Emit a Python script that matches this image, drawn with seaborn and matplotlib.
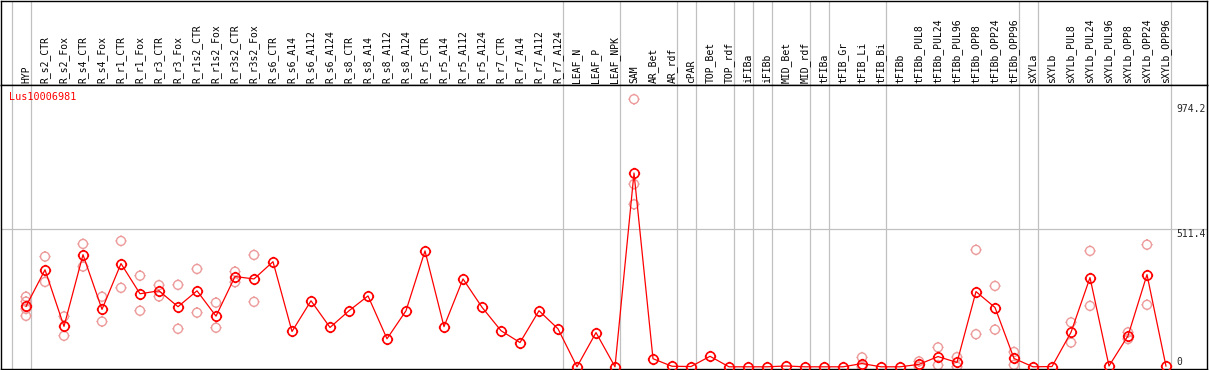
import numpy as np
import pandas as pd
import seaborn as sns
import matplotlib.pyplot as plt
from matplotlib.path import Path

# Sample names along the x axis
categories = [
    "HYP", "R_s2_CTR", "R_s2_Fox", "R_s4_CTR", "R_s4_Fox", "R_r1_CTR", "R_r1_Fox",
    "R_r3_CTR", "R_r3_Fox", "R_r1s2_CTR", "R_r1s2_Fox", "R_r3s2_CTR", "R_r3s2_Fox",
    "R_s6_CTR", "R_s6_A14", "R_s6_A112", "R_s6_A124", "R_s8_CTR", "R_s8_A14",
    "R_s8_A112", "R_s8_A124", "R_r5_CTR", "R_r5_A14", "R_r5_A112", "R_r5_A124",
    "R_r7_CTR", "R_r7_A14", "R_r7_A112", "R_r7_A124", "LEAF_N", "LEAF_P", "LEAF_NPK",
    "SAM", "AR_Bet", "AR_rdf", "cPAR", "TOP_Bet", "TOP_rdf", "iFIBa", "iFIBb",
    "MID_Bet", "MID_rdf", "tFIBa", "tFIB_Gr", "tFIB_Li", "tFIB_Bi", "tFIBb",
    "tFIBb_PUL8", "tFIBb_PUL24", "tFIBb_PUL96", "tFIBb_OPP8", "tFIBb_OPP24",
    "tFIBb_OPP96", "sXYLa", "sXYLb", "sXYLb_PUL8", "sXYLb_PUL24", "sXYLb_PUL96",
    "sXYLb_OPP8", "sXYLb_OPP24", "sXYLb_OPP96",
]

# Mean expression per sample
mean_values = [
    224, 360, 150, 416, 213, 383, 271, 282, 223, 282, 188, 335, 326, 390, 131,
    245, 146, 208, 263, 104, 208, 430, 149, 326, 221, 134, 90, 208, 141, 0,
    127, 0, 719, 30, 2, 1, 39, 0, 0, 0, 3, 0, 0, 0, 12, 0,
    0, 9, 38, 16, 279, 220, 31, 0, 1, 128, 331, 3, 115, 342, 2,
]

# Individual replicates (only where visible)
replicates = [
    [260, 242, 215, 189], [409, 315], [187, 115], [456, 372], [260, 168],
    [467, 293], [338, 208], [303, 261], [304, 141], [363, 201], [238, 145],
    [353, 314], [415, 241], [], [], [], [], [], [], [], [], [], [], [], [],
    [], [], [], [], [], [], [], [993, 678, 603], [], [], [], [], [], [], [],
    [], [], [], [], [35, 0], [], [], [20, 0], [72, 6], [36, 0], [434, 121],
    [300, 138], [55, 7], [], [], [165, 90], [430, 226], [], [128, 103],
    [453, 230], [],
]

# Sample index after which a group separator is drawn
group_ends = [-1, 0, 28, 31, 34, 35, 37, 38, 39, 41, 42, 45, 52, 53, 60]

gene_id = "Lus10006981"
scale_labels = ["974.2", "511.4", "0"]

means = pd.DataFrame({"idx": range(len(categories)), "value": mean_values})
reps = pd.DataFrame(
    [(i, v) for i, vals in enumerate(replicates) for v in vals],
    columns=["idx", "value"],
)

sns.set_style("white")
plt.rcParams["font.family"] = ["DejaVu Sans Mono"]

W, H = 1209, 370
fig = plt.figure(figsize=(W / 100, H / 100), dpi=100)


def px_rect(x0, y0, x1, y1):
    return [x0 / W, 1 - y1 / H, (x1 - x0) / W, (y1 - y0) / H]


ax_lab = fig.add_axes(px_rect(1, 0.5, 1207, 85))
ax = fig.add_axes(px_rect(1, 85, 1207, 369))

# x: sample i sits at pixel 26 + 19*i
xlim = ((1 - 26) / 19, (1207 - 26) / 19)
# y: zero at pixel 366.8, 0.2695 px per unit
ylim = (-(369 - 366.8) / 0.2695, (366.8 - 85) / 0.2695)

for a in (ax_lab, ax):
    a.set_xlim(*xlim)
    a.set_xticks([])
    a.set_yticks([])
    for s in a.spines.values():
        s.set_color("black")
        s.set_linewidth(1.0)
    for e in group_ends:
        a.axvline(e + 0.237, color="#c0c0c0", lw=0.9, zorder=0)
ax.set_ylim(*ylim)
ax_lab.set_ylim(0, 1)

ax.axhline(511.4, color="#c0c0c0", lw=0.9, zorder=0)

# ring marker with four short ticks
t = np.linspace(0, 2 * np.pi, 49)
ring_verts = np.column_stack([np.cos(t), np.sin(t)])
ring = Path(ring_verts, [Path.MOVETO] + [Path.LINETO] * 47 + [Path.CLOSEPOLY])
ticks = Path(
    [[0, 1], [0, 1.25], [0, -1], [0, -1.25], [1, 0], [1.25, 0], [-1, 0], [-1.25, 0]],
    [Path.MOVETO, Path.LINETO] * 4,
)
marker = Path.make_compound_path(ring, ticks)

sns.scatterplot(data=reps, x="idx", y="value", ax=ax, marker=marker, s=64,
                color="#ec9a9a", facecolor="none", edgecolor="#ec9a9a",
                linewidth=1.0, zorder=2)
sns.lineplot(data=means, x="idx", y="value", ax=ax, color="red", lw=0.9,
             marker=marker, markersize=8.2, markerfacecolor="none",
             markeredgecolor="red", markeredgewidth=1.2, zorder=3)
ax.set_xlabel("")
ax.set_ylabel("")
ax.set_xlim(*xlim)
ax.set_ylim(*ylim)

# sample labels
for i, name in enumerate(categories):
    ax_lab.text(i, 0.025, name, rotation=90, ha="center", va="bottom",
                fontsize=7, color="black", transform=ax_lab.get_xaxis_transform())

ax.text(8 / 1206, 1 - 7 / 284, gene_id, color="red", fontsize=7.3,
        ha="left", va="top", transform=ax.transAxes)

# scale labels on the right
x_scale = (1176 - 26) / 19
for lab in scale_labels:
    v = float(lab)
    ax.text(x_scale, v, lab, fontsize=7, ha="left",
            va="bottom" if v == 0 else "top", clip_on=False)

fig.savefig("out.png", dpi=100)
